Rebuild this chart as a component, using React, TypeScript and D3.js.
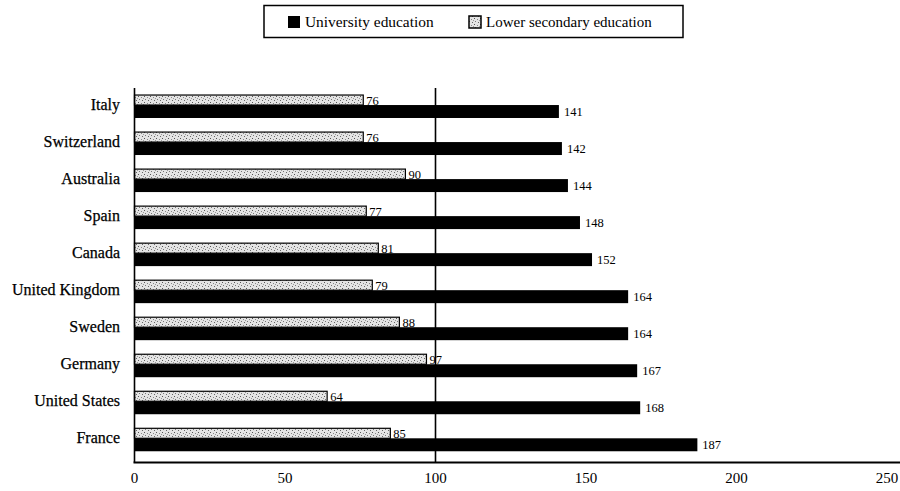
import React from "react";
import * as d3 from "d3";

const countries = [
  "Italy",
  "Switzerland",
  "Australia",
  "Spain",
  "Canada",
  "United Kingdom",
  "Sweden",
  "Germany",
  "United States",
  "France",
];
const university = [141, 142, 144, 148, 152, 164, 164, 167, 168, 187];
const lowerSecondary = [76, 76, 90, 77, 81, 79, 88, 97, 64, 85];
const xTicks = [0, 50, 100, 150, 200, 250];
const legendLabels = ["University education", "Lower secondary education"];

const W = 900;
const H = 491;
const FONT = "'Liberation Serif', 'Times New Roman', serif";
const txt = { fontFamily: FONT };

export default function App() {
  const x = d3.scaleLinear().domain([0, 250]).range([134.5, 887]);
  const y = d3
    .scaleBand<string>()
    .domain(countries)
    .range([88, 462])
    .paddingInner(0)
    .paddingOuter(0.05);
  const bw = y.bandwidth();
  const axisY = 462.5;
  const top = 88;

  return (
    <svg
      width={W}
      height={H}
      style={{ position: "absolute", left: 0, top: 0, background: "#fff", fontFamily: FONT }}
    >
      <defs>
        <pattern id="stipple" width={6} height={6} patternUnits="userSpaceOnUse">
          <rect width={6} height={6} fill="#e4e4e4" />
          <rect x={0} y={0} width={1} height={1} fill="#555" />
          <rect x={3} y={1} width={1} height={1} fill="#888" />
          <rect x={1} y={3} width={1} height={1} fill="#777" />
          <rect x={4} y={4} width={1} height={1} fill="#666" />
          <rect x={5} y={2} width={1} height={1} fill="#999" />
        </pattern>
      </defs>

      {/* Legend */}
      <rect x={264} y={5.5} width={419} height={32} fill="#fff" stroke="#000" strokeWidth={1.5} />
      <rect x={288} y={16} width={12} height={12} fill="#000" />
      <text x={305} y={27} fontSize={15.4} fill="#000" style={txt}>
        {legendLabels[0]}
      </text>
      <rect x={469} y={16} width={12} height={12} fill="url(#stipple)" stroke="#000" strokeWidth={1.5} />
      <text x={486} y={27} fontSize={15} fill="#000" style={txt}>
        {legendLabels[1]}
      </text>

      {/* Bars */}
      {countries.map((c, i) => {
        const b = y(c) as number;
        const lowY = b + 0.14 * bw;
        const lowH = 0.27 * bw;
        const uniY = lowY + lowH;
        const uniH = 0.35 * bw;
        return (
          <g key={c}>
            <rect
              x={x(0)}
              y={lowY}
              width={x(lowerSecondary[i]) - x(0)}
              height={lowH}
              fill="url(#stipple)"
              stroke="#000"
              strokeWidth={1.2}
            />
            <rect
              x={x(0)}
              y={uniY}
              width={x(university[i]) - x(0)}
              height={uniH}
              fill="#000"
            />
            <text x={x(lowerSecondary[i]) + 3} y={lowY + lowH} fontSize={12.5} fill="#000" style={txt}>
              {lowerSecondary[i]}
            </text>
            <text x={x(university[i]) + 5} y={uniY + uniH / 2 + 4} fontSize={12.5} fill="#000" style={txt}>
              {university[i]}
            </text>
            <text
              x={120}
              y={uniY + 4.5}
              fontSize={16}
              textAnchor="end"
              fill="#000"
              stroke="#000"
              strokeWidth={0.25}
              style={txt}
            >
              {c}
            </text>
          </g>
        );
      })}

      {/* Reference line at 100 */}
      <line x1={x(100)} x2={x(100)} y1={top} y2={axisY} stroke="#000" strokeWidth={1.6} />

      {/* Axes */}
      <line x1={x(0)} x2={x(0)} y1={top} y2={axisY} stroke="#000" strokeWidth={1.6} />
      <line x1={x(0) - 1} x2={W} y1={axisY} y2={axisY} stroke="#000" strokeWidth={2} />
      {xTicks.map((t) => (
        <text key={t} x={x(t)} y={483} fontSize={15} textAnchor="middle" fill="#000" style={txt}>
          {t}
        </text>
      ))}
    </svg>
  );
}
